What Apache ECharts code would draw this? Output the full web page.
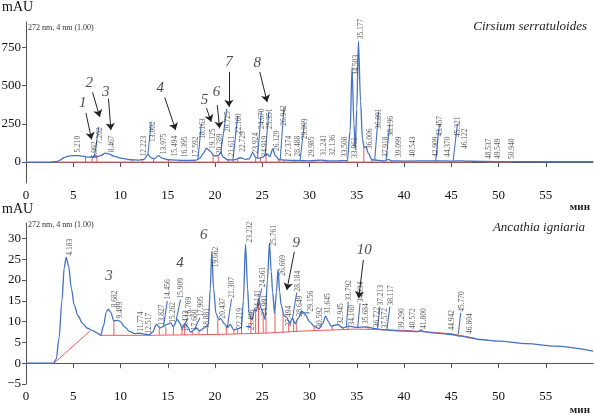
<!DOCTYPE html>
<html lang="ru">
<head>
<meta charset="UTF-8">
<title>ВЭЖХ хроматограммы</title>
<script src="https://cdn.jsdelivr.net/npm/echarts/dist/echarts.min.js"></script>
<style>
  html, body { margin: 0; padding: 0; background: #fff; }
  #main { width: 594px; height: 419px; }
</style>
</head>
<body>
<div id="main"></div>
<script>
// ---- Cirsium serratuloides (верхняя хроматограмма) ----
var topTrace = [[0,0],[2.5,0],[3.2,2],[3.6,12],[4.0,28],[4.5,38],[5.0,42],[5.5,42],[6.0,38],[6.5,32],[7.0,33],[7.2,38],[7.5,35],
  [7.9,42],[8.4,58],[8.8,52],[9.3,38],[10,25],[11,15],[12,12],[12.5,18],[12.9,48],[13.3,25],[13.6,22],[14.0,42],[14.4,25],
  [15,15],[16,12],[17,10],[18,12],[18.4,25],[18.8,60],[19.1,90],[19.5,70],[19.9,40],[20.3,42],[20.6,58],[20.9,30],[21.3,15],
  [22,14],[22.7,28],[23.2,18],[23.6,20],[24.0,62],[24.3,30],[24.6,25],[25.0,30],[25.5,55],[25.8,35],[26.1,85],[26.4,40],
  [26.8,15],[27.5,12],[28.5,10],[30,8],[31.2,12],[32,8],[33,8],[34.0,10],[34.3,200],[34.5,620],[34.7,250],[34.85,80],
  [35.0,350],[35.18,790],[35.4,400],[35.6,150],[35.8,95],[36.0,100],[36.2,60],[36.6,15],[38,8],[38.3,18],[38.7,8],[40,6],
  [43.4,8],[45,6],[46.1,8],[47,5],[50,3],[55,2],[60,2]];
var topBaseline = [[2.7,0],[47.2,0],['-','-'],[48.6,0],[51.4,0]];
var topDrops = [[6.3,37],[7.0,33],[7.5,35],[11.3,14],[12.3,15],[13.5,22],[15.1,14],[16.3,12],[17.8,11],[19.8,42],[20.35,45],
  [21.4,15],[21.9,14],[22.4,18],[24.3,30],[24.8,27],[25.4,45],[26.75,15],[27.3,12],[28.4,10],[29.3,9],[33.2,8],[34.0,10],
  [35.75,100],[36.6,15],[37.8,8],[38.7,8],[43.3,8],[44.9,6],[46.4,6]];
var topLabelText = ['5.210','6.992','7.202','8.467','12.223','13.002','13.975','15.494','16.395','17.592','18.163','19.125',
  '20.289','20.725','21.611','22.100','22.729','23.924','24.670','24.919','25.351','26.129','26.942','27.374','28.488',
  '29.099','29.985','31.241','32.136','33.508','33.961','34.503','35.177','36.006','36.891','37.918','38.196','39.099',
  '40.543','42.909','43.457','44.370','45.321','46.122','48.537','49.549','50.940'];
var topLabelT = [5.5,7.3,7.85,9.1,12.5,13.4,14.65,15.8,16.85,17.95,18.7,19.75,20.55,21.4,21.85,22.5,23.0,24.3,24.95,25.3,
  25.8,26.6,27.35,27.8,28.8,29.55,30.3,31.5,32.5,33.8,34.8,34.95,35.5,36.4,37.4,38.15,38.6,39.5,41.0,43.4,43.85,44.7,
  45.75,46.5,49.0,50.0,51.4];
var topLabelV = [55,18,110,57,30,125,45,30,25,25,145,78,45,190,30,176,60,50,209,30,209,65,230,30,30,143,26,35,35,26,20,
  560,795,78,209,26,160,26,26,26,160,26,157,78,13,13,13];
var topLeaders = [[7.25,38,7.7,230],[12.9,48,13.25,260],[18.2,15,18.55,250],[20.6,58,21.25,350],[21.9,14,22.4,300],
  [24.5,30,24.9,330],[25.3,45,25.7,330],[26.9,15,27.3,360],[29.0,10,29.45,250],[36.9,10,37.3,330],[38.1,12,38.5,250],
  [43.35,8,43.75,250],[45.2,8,45.65,250]];
var topNumText = ['1','2','3','4','5','6','7','8'];
var topNumPos = [[6.0,383],[6.7,517],[8.45,459],[14.2,481],[18.9,404],[20.17,459],[21.47,654],[24.47,644]];
var topArrows = [[6.34,320,6.94,148],[7.04,455,7.81,295],[8.73,415,8.98,209],[14.68,422,15.84,209],[19.1,352,19.6,263],
  [20.24,372,20.49,220],[21.47,589,21.47,361],[24.74,589,25.52,393]];

// ---- Ancathia igniaria (нижняя хроматограмма) ----
var botTrace = [[0,0],[2.9,0],[3.2,1.0],[3.5,6],[3.8,15],[4.05,23],[4.25,25.5],[4.5,23.5],[4.8,18],[5.1,14],[5.5,11.4],
  [6.0,9.5],[6.5,8.4],[7.0,7.9],[7.5,7.3],[7.9,6.7],[8.2,9],[8.5,12.3],[8.7,13.0],[8.95,12.3],[9.3,10.2],[9.7,10.3],
  [10.0,10.0],[10.4,8.8],[11.0,7.6],[11.5,7.1],[12.0,7.2],[12.5,7.0],[13.0,6.8],[13.4,7.5],[13.8,9.3],[14.2,8.5],[14.5,8.8],
  [15.0,9.4],[15.3,9.7],[15.6,8.8],[16.0,10.5],[16.3,9.6],[16.5,8.3],[16.8,9.5],[17.1,8.8],[17.4,7.5],[17.8,8.0],[18.0,8.5],
  [18.4,7.8],[18.9,8.5],[19.3,9.3],[19.5,18],[19.66,26.8],[19.85,18],[20.1,12.0],[20.4,10.5],[20.6,10.7],[21.0,9.5],
  [21.3,8.5],[21.6,9.3],[22.0,8.0],[22.4,8.3],[22.8,8.6],[23.0,15],[23.23,28.6],[23.45,18],[23.6,12.0],[23.9,10.5],
  [24.2,13.0],[24.4,12.5],[24.6,15.5],[24.9,13.0],[25.1,12.0],[25.3,10.5],[25.55,20],[25.76,29.0],[25.95,22],[26.1,17.0],
  [26.3,12.0],[26.5,17],[26.67,22.6],[26.85,17],[27.0,14.0],[27.3,11.5],[27.6,11.0],[27.9,9.5],[28.2,10.8],[28.5,9.5],
  [28.8,10.8],[29.2,12.5],[29.6,11.5],[30.0,10.0],[30.5,8.9],[31.0,8.3],[31.4,9.5],[31.7,11.3],[32.0,10.0],[32.3,8.9],
  [33.0,9.3],[33.5,8.5],[34.2,8.9],[35.0,8.6],[36.0,8.7],[37.0,8.3],[38.0,8.0],[40.0,7.7],[41.5,7.6],[41.8,8.0],[42.1,7.6],
  [43.0,7.3],[45.0,6.9],[46.0,6.5],[47.0,6.1],[48.0,5.7],[50.0,5.3],[53.0,4.7],[56.0,4.1],[60.0,2.9]];
var botBaseline = [[2.95,0],[6.8,7.8],['-','-'],[7.9,6.7],[13,6.7],[20,6.9],[25,7.2],[30,7.8],[35,8.2],[40,7.9],[45,7.1],[47.5,6.0]];
var botDrops = [[9.3,6.7,10.2],[12.6,6.7,7.0],[14.1,6.8,8.5],[14.8,6.8,8.7],[15.6,6.8,8.9],[16.5,6.8,8.4],[16.8,6.8,9.3],
  [17.6,6.9,7.7],[18.3,6.9,7.9],[19.2,6.9,8.9],[20.3,7.0,10.5],[21.2,7.0,9.0],[22.0,7.0,8.0],[22.4,7.0,8.3],[22.8,7.0,8.6],
  [23.8,7.1,11.0],[24.3,7.2,13.0],[24.6,7.2,15.0],[25.1,7.2,12.0],[25.4,7.2,11.0],[26.35,7.3,12.5],[27.2,7.4,12.0],
  [27.8,7.4,9.6],[28.3,7.5,10.4],[28.6,7.5,9.8],[30.5,7.8,8.9],[32.4,7.9,8.9],[33.6,8.0,8.5],[34.1,8.0,8.9],[36.2,8.2,8.6]];
var botLabelText = ['4.183','8.682','9.499','11.774','12.517','13.827','14.456','15.262','15.909','16.433','16.769','17.680',
  '17.905','18.881','19.662','20.437','21.307','22.219','23.232','23.496','24.141','24.561','24.991','25.761','26.669',
  '27.494','28.184','28.649','29.156','30.592','31.645','32.945','33.792','34.160','34.934','35.684','36.722','37.213',
  '37.572','38.117','39.290','40.572','41.800','44.942','45.770','46.804'];
var botLabelT = [4.7,9.4,10.0,12.2,13.0,14.35,15.0,15.6,16.45,16.9,17.25,17.85,18.5,19.2,20.1,20.9,21.85,22.6,23.7,23.9,
  24.6,25.05,25.25,26.2,27.2,27.85,28.75,29.05,30.2,31.1,32.0,33.3,34.2,34.5,35.45,36.0,37.1,37.55,38.0,38.6,39.8,41.0,
  42.1,45.1,46.1,47.0];
var botLabelV = [25.6,13.2,10.5,7.3,6.9,8.9,15.0,9.5,15.3,7.4,10.8,7.7,10.9,8.1,22.8,10.5,15.5,8.1,28.8,7.7,12.4,18.0,
  11.2,28.0,20.8,8.6,17.0,11.0,12.2,8.3,11.6,9.2,14.8,8.8,14.4,9.2,8.4,13.6,8.1,13.6,8.0,8.0,8.0,7.6,12.1,6.8];
var botLeaders = [[14.55,8.8,14.95,15],[15.9,10.5,16.35,15.3],[16.8,9.4,17.15,10.8],[17.85,8.2,18.4,10.9],[21.3,8.6,21.75,15.5],
  [24.7,15.5,24.95,18],[28.2,10.8,28.65,17],[29.1,12.1,30.0,12.1],[23.3,8.8,23.8,8.8],[33.9,8.6,34.1,14.8],
  [35.1,8.6,35.35,14.4],[37.2,8.4,37.45,13.6],[38.2,8.1,38.5,13.6],[45.75,7.0,46.0,12.1]];
var botNumText = ['3','4','6','9','10'];
var botNumPos = [[8.77,21.0],[16.3,24.0],[18.8,30.8],[28.6,28.8],[35.8,27.2]];
var botArrows = [[28.4,26.8,27.6,17.6],[35.7,24.8,35.2,15.6]];

var BLUE = '#4472c4', RED = '#f05a5a', SERIF = 'Liberation Serif';

function segs(list) {  // отрезки через разрыв
  var out = [];
  list.forEach(function (s) { out.push([s[0], s[1]], [s[2], s[3]], ['-', '-']); });
  return out;
}
function drops(list, hasBase) {
  var out = [];
  list.forEach(function (d) {
    out.push([d[0], hasBase ? d[1] : 0], [d[0], hasBase ? d[2] : d[1]], ['-', '-']);
  });
  return out;
}
function labels(ts, vs, txt) {
  return ts.map(function (t, i) { return [t, vs[i], txt[i]]; });
}
function arrows(list) {
  return list.map(function (a) { return [{coord: [a[0], a[1]]}, {coord: [a[2], a[3]]}]; });
}

function panelSeries(idx, trace, base, dropData, lab, lead, nums, arr) {
  return [
    {type: 'line', xAxisIndex: idx, yAxisIndex: idx, data: base, showSymbol: false, connectNulls: false,
      lineStyle: {color: RED, width: 1}, z: 2},
    {type: 'line', xAxisIndex: idx, yAxisIndex: idx, data: dropData, showSymbol: false, connectNulls: false,
      lineStyle: {color: RED, width: 1}, z: 2},
    {type: 'line', xAxisIndex: idx, yAxisIndex: idx, data: trace, showSymbol: false, smooth: 0.3, smoothMonotone: 'x',
      lineStyle: {color: BLUE, width: 1.3}, z: 3},
    {type: 'line', xAxisIndex: idx, yAxisIndex: idx, data: lead, showSymbol: false, connectNulls: false,
      lineStyle: {color: BLUE, width: 1.1}, z: 3},
    {type: 'scatter', xAxisIndex: idx, yAxisIndex: idx, data: lab, symbolSize: 0, z: 4,
      label: {show: true, position: 'top', distance: 1, rotate: 90, align: 'left', verticalAlign: 'middle',
        fontFamily: SERIF, fontSize: 7.5, color: '#333',
        formatter: function (p) { return p.value[2]; }}},
    {type: 'scatter', xAxisIndex: idx, yAxisIndex: idx, data: nums, symbolSize: 0, z: 5,
      label: {show: true, position: 'inside', fontFamily: SERIF, fontStyle: 'italic', fontSize: 15, color: '#222',
        formatter: function (p) { return p.value[2]; }},
      markLine: {silent: true, symbol: ['none', 'arrow'], symbolSize: 7, label: {show: false},
        lineStyle: {color: '#222', width: 1, type: 'solid'}, data: arr}}
  ];
}

function xAx(idx) {
  return {type: 'value', gridIndex: idx, min: 0, max: 60, interval: 5,
    axisLine: {lineStyle: {color: '#555', width: 1}}, axisTick: {length: 5, lineStyle: {color: '#555'}},
    axisLabel: {fontFamily: SERIF, fontSize: 13, color: '#111', margin: 6, showMaxLabel: false},
    splitLine: {show: false}};
}
function yAx(idx, min, max, ticks) {
  return {type: 'value', gridIndex: idx, min: min, max: max,
    axisLine: {show: true, onZero: false, lineStyle: {color: '#555', width: 1}},
    axisTick: {show: true, length: 4, customValues: ticks, lineStyle: {color: '#555'}},
    axisLabel: {customValues: ticks, fontFamily: SERIF, fontSize: 13, color: '#111', margin: 5,
      formatter: function (v) { return v < 0 ? '\u2212' + (-v) : '' + v; }},
    splitLine: {show: false}};
}

var chart = echarts.init(document.getElementById('main'));
chart.setOption({
  animation: false,
  grid: [
    {left: 26, right: 1, top: 22, height: 161, outerBoundsMode: 'none', containLabel: false},
    {left: 26, right: 1, top: 223, height: 161, outerBoundsMode: 'none', containLabel: false}
  ],
  xAxis: [xAx(0), xAx(1)],
  yAxis: [yAx(0, -137, 915, [0, 250, 500, 750]), yAx(1, -5, 33.7, [-5, 0, 5, 10, 15, 20, 25, 30])],
  graphic: [
    {type: 'text', left: 2, top: 0, style: {text: 'mAU', font: '14px "Liberation Serif"', fill: '#111'}},
    {type: 'text', left: 2, top: 202, style: {text: 'mAU', font: '14px "Liberation Serif"', fill: '#111'}},
    {type: 'text', left: 28, top: 24, style: {text: '272 nm, 4 nm (1.00)', font: '8px "Liberation Serif"', fill: '#333'}},
    {type: 'text', left: 28, top: 221, style: {text: '272 nm, 4 nm (1.00)', font: '8px "Liberation Serif"', fill: '#333'}},
    {type: 'text', right: 7, top: 20, style: {text: 'Cirsium serratuloides', font: 'italic 13px "Liberation Serif"', fill: '#222'}},
    {type: 'text', right: 9, top: 221, style: {text: 'Ancathia igniaria', font: 'italic 13px "Liberation Serif"', fill: '#222'}},
    {type: 'text', right: 4, top: 202, style: {text: 'мин', font: 'bold 11px "Liberation Serif"', fill: '#222'}},
    {type: 'text', right: 4, top: 405, style: {text: 'мин', font: 'bold 11px "Liberation Serif"', fill: '#222'}}
  ],
  series: [].concat(
    panelSeries(0, topTrace, topBaseline, drops(topDrops, false), labels(topLabelT, topLabelV, topLabelText),
      segs(topLeaders), labels(topNumPos.map(function (p) { return p[0]; }), topNumPos.map(function (p) { return p[1]; }), topNumText),
      arrows(topArrows)),
    panelSeries(1, botTrace, botBaseline, drops(botDrops, true), labels(botLabelT, botLabelV, botLabelText),
      segs(botLeaders), labels(botNumPos.map(function (p) { return p[0]; }), botNumPos.map(function (p) { return p[1]; }), botNumText),
      arrows(botArrows))
  )
});
</script>
</body>
</html>
